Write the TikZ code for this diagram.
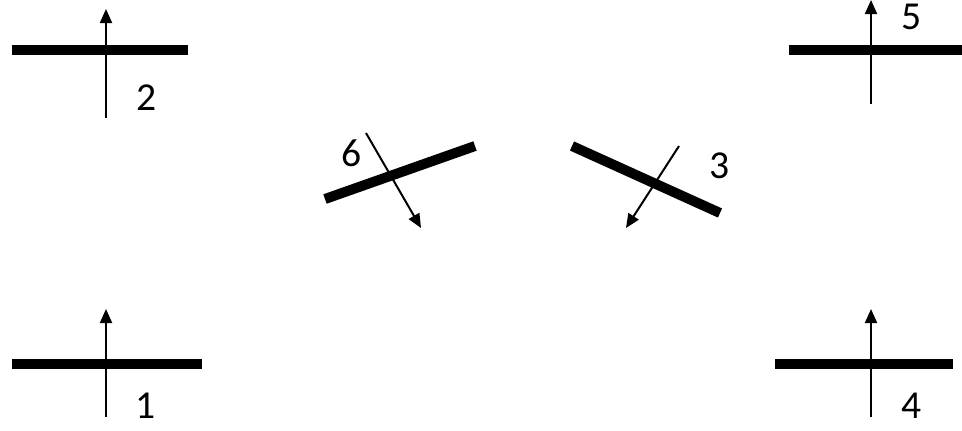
\documentclass[tikz,border=0pt]{standalone}
\usepackage{fontspec}
\setmainfont{Carlito}
\usepackage{tikz}
\usetikzlibrary{arrows.meta}

\begin{document}
\begin{tikzpicture}[
  x=0.75pt, y=-0.75pt,
  plate/.style={line width=7.5pt},
  ray/.style={line width=1.5pt,-{Triangle[length=10.5pt,width=9pt]}},
  num/.style={inner sep=0pt,font=\fontsize{29.7}{30}\selectfont},
]
  \useasboundingbox (0,0) rectangle (962,430);

  % Horizontal plates
  \coordinate (p2a) at (12,50);   \coordinate (p2b) at (188,50);
  \coordinate (p1a) at (12,364);  \coordinate (p1b) at (202,364);
  \coordinate (p5a) at (789,50);  \coordinate (p5b) at (962,50);
  \coordinate (p4a) at (775,364); \coordinate (p4b) at (953,364);

  % Tilted plates
  \coordinate (p6a) at (325,199); \coordinate (p6b) at (475,146);
  \coordinate (p3a) at (572,146); \coordinate (p3b) at (720,213);

  \draw[plate] (p2a) -- (p2b);
  \draw[plate] (p1a) -- (p1b);
  \draw[plate] (p5a) -- (p5b);
  \draw[plate] (p4a) -- (p4b);
  \draw[plate] (p6a) -- (p6b);
  \draw[plate] (p3a) -- (p3b);

  % Arrows through the plates
  \coordinate (r2s) at (106,118); \coordinate (r2e) at (106,9);
  \coordinate (r1s) at (106,417); \coordinate (r1e) at (106,309);
  \coordinate (r5s) at (871,104); \coordinate (r5e) at (871,0);
  \coordinate (r4s) at (871,417); \coordinate (r4e) at (871,309);
  \coordinate (r6s) at (366,133); \coordinate (r6e) at (421,228);
  \coordinate (r3s) at (679,146); \coordinate (r3e) at (626,228);

  \draw[ray] (r2s) -- (r2e);
  \draw[ray] (r1s) -- (r1e);
  \draw[ray] (r5s) -- (r5e);
  \draw[ray] (r4s) -- (r4e);
  \draw[ray] (r6s) -- (r6e);
  \draw[ray] (r3s) -- (r3e);

  % Labels
  \node[num] (n1) at (146,406) {1};
  \node[num] (n2) at (147,98)  {2};
  \node[num] (n3) at (720,166) {3};
  \node[num] (n4) at (912,406) {4};
  \node[num] (n5) at (912,17)  {5};
  \node[num] (n6) at (352,153) {6};
\end{tikzpicture}
\end{document}
